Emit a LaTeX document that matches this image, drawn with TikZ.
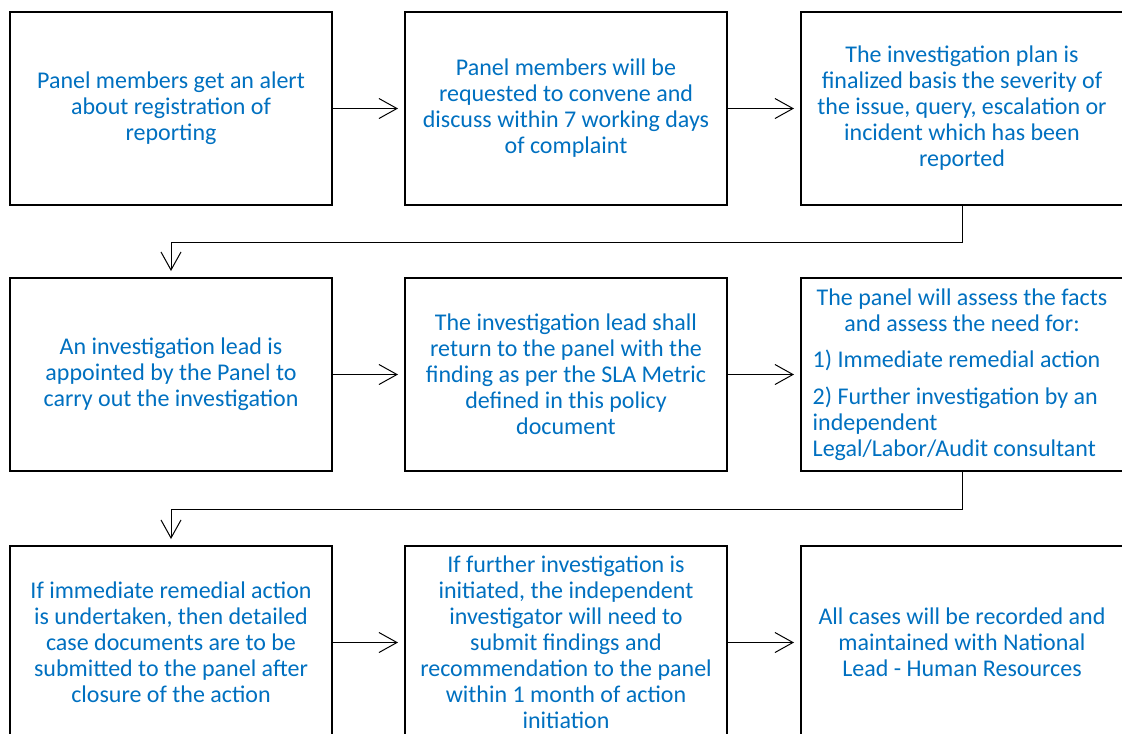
\documentclass[tikz,border=0pt]{standalone}
\usepackage{fontspec}
\setmainfont{Carlito}
\usetikzlibrary{arrows.meta}
\definecolor{stepblue}{HTML}{0070C0}
\tikzset{
  box/.style={draw, line width=1.5pt, minimum width=241.5pt, minimum height=144.75pt,
    align=center, text=stepblue, inner sep=0pt, font=\fontsize{18}{19.5}\selectfont},
  link/.style={-{Straight Barb[length=13.5pt,width=15pt]}, line width=0.75pt, shorten >=4.5pt}
}
\begin{document}
\begin{tikzpicture}[x=0.75pt, y=-0.75pt]
    \useasboundingbox (0,0) rectangle (1122,733);
    \clip (0,0) rectangle (1122,733);

    % Row 1
    \node[box] (alert) at (171,108.5) {Panel members get an alert\\about registration of\\reporting};
    \node[box] (convene) at (566,108.5) {Panel members will be\\requested to convene and\\discuss within 7 working days\\of complaint};
    \node[box] (plan) at (962,108.5) {The investigation plan is\\finalized basis the severity of\\the issue, query, escalation or\\incident which has been\\reported};

    % Row 2
    \node[box] (lead) at (171,374.5) {An investigation lead is\\appointed by the Panel to\\carry out the investigation};
    \node[box] (finding) at (566,374.5) {The investigation lead shall\\return to the panel with the\\finding as per the SLA Metric\\defined in this policy\\document};
    \node[box, text width=224pt, align=left] (assess) at (962,374.5) {\spaceskip=0pt\xspaceskip=0pt
        {\centering The panel will assess the facts\\and assess the need for:\par}
        \vspace{8pt}1) Immediate remedial action\par
        \vspace{8pt}2) Further investigation by an\\independent\\Legal/Labor/Audit consultant};

    % Row 3
    \node[box] (remedial) at (171,642.5) {If immediate remedial action\\is undertaken, then detailed\\case documents are to be\\submitted to the panel after\\closure of the action};
    \node[box] (further) at (566,642.5) {If further investigation is\\initiated, the independent\\investigator will need to\\submit findings and\\recommendation to the panel\\within 1 month of action\\initiation};
    \node[box] (record) at (962,642.5) {All cases will be recorded and\\maintained with National\\Lead - Human Resources};

    % Connectors
    \draw[link] (alert) -- (convene);
    \draw[link] (convene) -- (plan);
    \draw[link] (plan.south) -- ++(0,36) -| (lead.north);
    \draw[link] (lead) -- (finding);
    \draw[link] (finding) -- (assess);
    \draw[link] (assess.south) -- ++(0,37) -| (remedial.north);
    \draw[link] (remedial) -- (further);
    \draw[link] (further) -- (record);
\end{tikzpicture}
\end{document}
